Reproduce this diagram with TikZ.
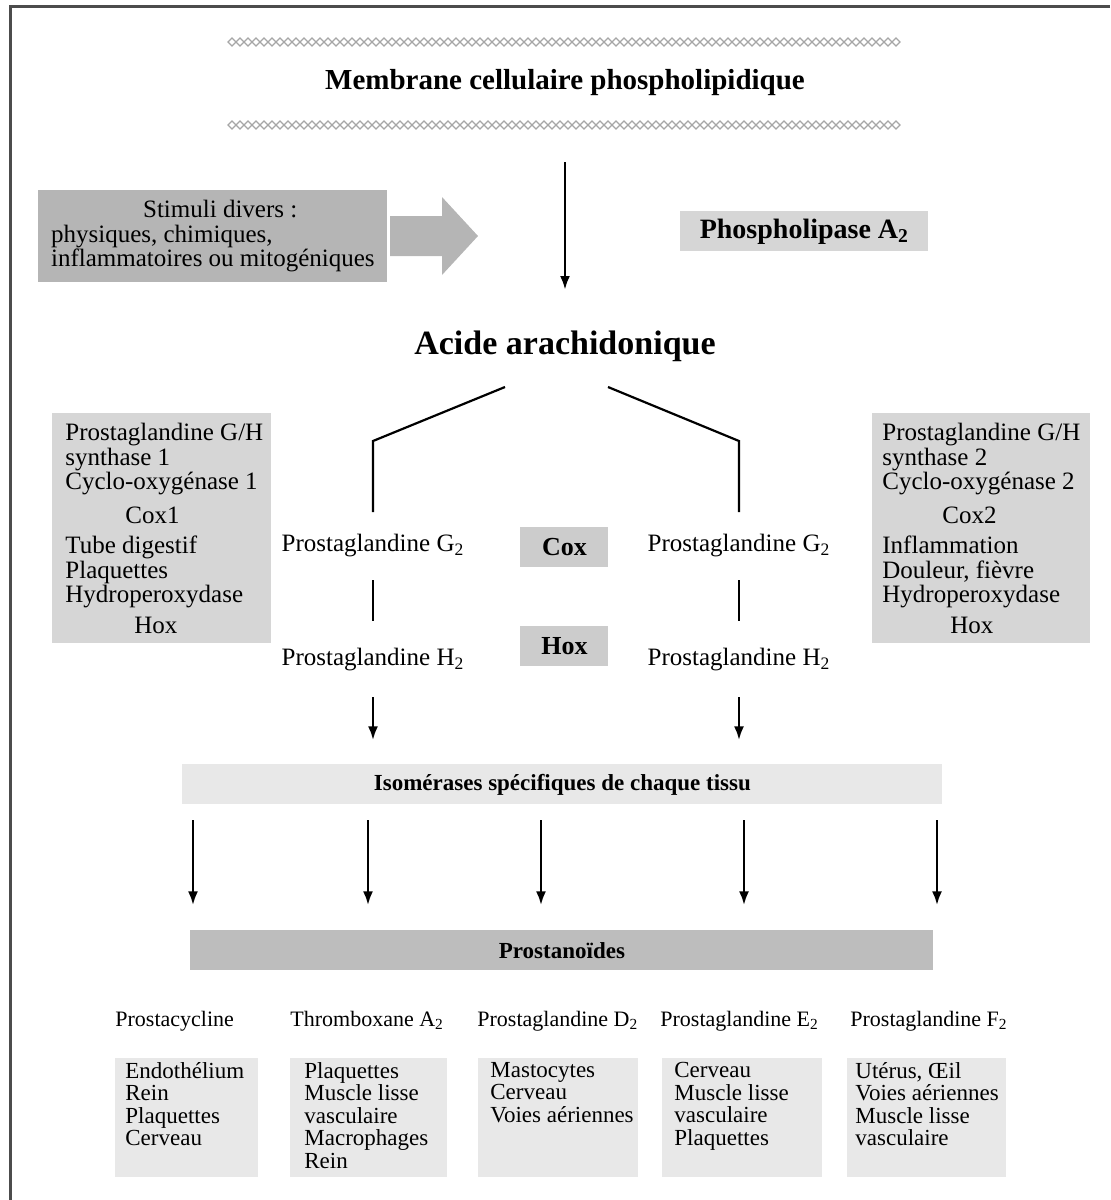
\documentclass[tikz,border=0pt]{standalone}
\usepackage{fontspec}
\setmainfont{Liberation Serif}
\usepackage{tikz}
\usetikzlibrary{arrows.meta, positioning, calc}

\definecolor{grisfonce}{gray}{0.71}
\definecolor{grismoyen}{gray}{0.80}
\definecolor{grisclair}{gray}{0.84}
\definecolor{grispale}{gray}{0.91}
\definecolor{grisprost}{gray}{0.74}

\newcommand{\tailleTexte}{\fontsize{12.5}{12.25}\selectfont}
\newcommand{\tailleListe}{\fontsize{11.5}{11.25}\selectfont}
\newcommand{\tailleEtiq}{\fontsize{11}{12}\selectfont}

\begin{document}
\begin{tikzpicture}[x=0.5pt, y=-0.5pt,
  membrane/.style={draw=black!35, line width=0.6pt},
  fleche/.style={-{Latex[length=7pt,width=5pt]}, line width=1.4pt},
  trait/.style={line width=1.1pt},
  boite/.style={rectangle, inner sep=0pt, anchor=north west},
  texte/.style={inner sep=0pt, font=\tailleTexte},
  liste/.style={inner sep=0pt, anchor=north west, align=left, font=\tailleTexte}]
  \useasboundingbox (0,0) rectangle (1110,1200);
  % Cadre
  \draw[line width=1.5pt, black!70] (1110,6) -- (10,6) -- (10,1200);
  % Membrane
  \foreach \y in {42,125}
    \foreach \x in {228,236,...,892}
      \draw[membrane] (\x,\y) -- ++(4,-4) -- ++(4,4) -- ++(-4,4) -- cycle;
  \node[texte, font=\fontsize{14.5}{16}\selectfont\bfseries] (membrane) at (565,83) {Membrane cellulaire phospholipidique};
  % Stimuli
  \node[boite, fill=grisfonce, minimum width=174.5pt, minimum height=46pt, align=left, font=\tailleTexte] (stimuli) at (38,190)
    {\hspace*{46pt}Stimuli divers :\\physiques, chimiques,\\inflammatoires ou mitogéniques};
  \fill[grisfonce] (390,216) -- (442,216) -- (442,197) -- (478,236) -- (442,275) -- (442,256) -- (390,256) -- cycle;
  \node[boite, fill=grisclair, minimum width=124pt, minimum height=20pt, font=\fontsize{14}{16}\selectfont\bfseries] (pla2) at (680,211) {Phospholipase A\textsubscript{2}};
  % Acide arachidonique
  \node[texte, font=\fontsize{17}{19}\selectfont\bfseries] (acide) at (565,346) {Acide arachidonique};
  \draw[fleche, shorten <=39.5pt, shorten >=28pt] (membrane.center) -- (acide.center);
  % Cox 1
  \node[boite, fill=grisclair, minimum width=109.5pt, minimum height=115pt] (cox1box) at (52,413) {};
  \node[liste] (cox1) at (65,423) {Prostaglandine G/H\\synthase 1\\Cyclo-oxygénase 1\\[4.5pt]\hspace*{30pt}Cox1\\[3pt]Tube digestif\\Plaquettes\\Hydroperoxydase\\[3pt]\hspace*{34.5pt}Hox};
  % Cox 2
  \node[boite, fill=grisclair, minimum width=109pt, minimum height=115pt] (cox2box) at (872,413) {};
  \node[liste] (cox2) at (882,423) {Prostaglandine G/H\\synthase 2\\Cyclo-oxygénase 2\\[4.5pt]\hspace*{30pt}Cox2\\[3pt]Inflammation\\Douleur, fièvre\\Hydroperoxydase\\[3pt]\hspace*{34pt}Hox};
  % Prostaglandines G2 et H2
  \node[texte] (pgg1) at (373,546) {Prostaglandine G\textsubscript{2}};
  \node[texte] (pgg2) at (739,546) {Prostaglandine G\textsubscript{2}};
  \node[texte] (pgh1) at (373,660) {Prostaglandine H\textsubscript{2}};
  \node[texte] (pgh2) at (739,660) {Prostaglandine H\textsubscript{2}};
  \node[boite, fill=grismoyen, minimum width=44pt, minimum height=20pt, font=\fontsize{13}{15}\selectfont\bfseries] (cox) at (520,527) {Cox};
  \node[boite, fill=grismoyen, minimum width=44pt, minimum height=20pt, font=\fontsize{13}{15}\selectfont\bfseries] (hox) at (520,626) {Hox};
  \draw[trait, shorten >=17pt] ($(acide.center)+(-60,41)$) -- (pgg1.center |- 0,441) -- (pgg1.center);
  \draw[trait, shorten >=17pt] ($(acide.center)+(43,41)$) -- (pgg2.center |- 0,441) -- (pgg2.center);
  \draw[trait, shorten <=17pt, shorten >=19.5pt] (pgg1.center) -- (pgh1.center);
  \draw[trait, shorten <=17pt, shorten >=19.5pt] (pgg2.center) -- (pgh2.center);
  % Isomerases et prostanoides
  \node[boite, fill=grispale, minimum width=380pt, minimum height=20pt, font=\fontsize{11.5}{13}\selectfont\bfseries] (iso) at (182,764) {Isomérases spécifiques de chaque tissu};
  \node[boite, fill=grisprost, minimum width=371.5pt, minimum height=20pt, font=\fontsize{11.5}{13}\selectfont\bfseries] (prost) at (190,930) {Prostanoïdes};
  \draw[fleche, shorten <=18.5pt, shorten >=22pt] (pgh1.center) -- (pgh1.center |- iso.center);
  \draw[fleche, shorten <=18.5pt, shorten >=22pt] (pgh2.center) -- (pgh2.center |- iso.center);
  \foreach \x in {193,368,541,744,937}
    \draw[fleche, shorten <=18pt, shorten >=22.5pt] (\x,0 |- iso.center) -- (\x,0 |- prost.center);
  % Prostanoides et tissus
  \node[texte, font=\tailleEtiq, anchor=base west] (lpgi) at (115,1026) {Prostacycline};
  \node[texte, font=\tailleEtiq, anchor=base west] (ltxa) at (290,1026) {Thromboxane A\textsubscript{2}};
  \node[texte, font=\tailleEtiq, anchor=base west] (lpgd) at (477,1026) {Prostaglandine D\textsubscript{2}};
  \node[texte, font=\tailleEtiq, anchor=base west] (lpge) at (660,1026) {Prostaglandine E\textsubscript{2}};
  \node[texte, font=\tailleEtiq, anchor=base west] (lpgf) at (850,1026) {Prostaglandine F\textsubscript{2}};
  \node[boite, fill=grispale, minimum width=71.5pt, minimum height=59.5pt] (bpgi) at (115,1058) {};
  \node[boite, fill=grispale, minimum width=78.5pt, minimum height=59.5pt] (btxa) at (290,1058) {};
  \node[boite, fill=grispale, minimum width=80pt, minimum height=59.5pt] (bpgd) at (478,1058) {};
  \node[boite, fill=grispale, minimum width=80pt, minimum height=59.5pt] (bpge) at (662,1058) {};
  \node[boite, fill=grispale, minimum width=79.5pt, minimum height=59.5pt] (bpgf) at (847,1058) {};
  \node[liste, font=\tailleListe] (tpgi) at (125,1062) {Endothélium\\Rein\\Plaquettes\\Cerveau};
  \node[liste, font=\tailleListe] (ttxa) at (304,1062) {Plaquettes\\Muscle lisse\\vasculaire\\Macrophages\\Rein};
  \node[liste, font=\tailleListe] (tpgd) at (490,1062) {Mastocytes\\Cerveau\\Voies aériennes};
  \node[liste, font=\tailleListe] (tpge) at (674,1062) {Cerveau\\Muscle lisse\\vasculaire\\Plaquettes};
  \node[liste, font=\tailleListe] (tpgf) at (855,1062) {Utérus, Œil\\Voies aériennes\\Muscle lisse\\vasculaire};
\end{tikzpicture}
\end{document}
